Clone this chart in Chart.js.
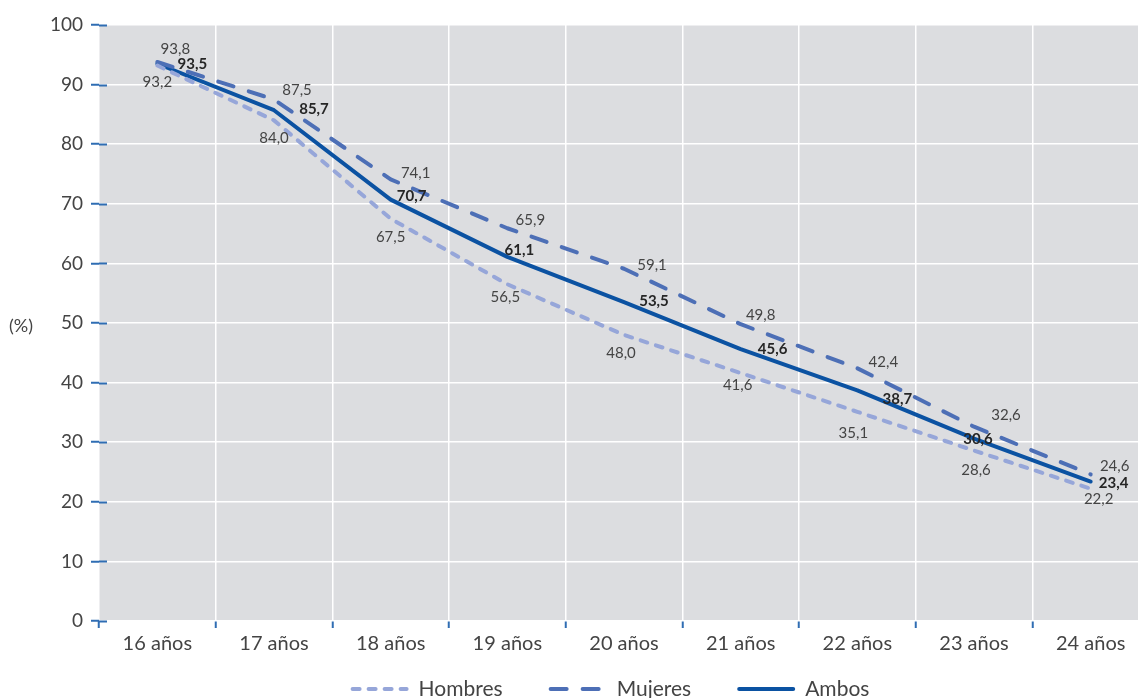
<!DOCTYPE html>
<html lang="es">
<head>
<meta charset="utf-8">
<title>Porcentaje por edad</title>
<script src="https://cdn.jsdelivr.net/npm/chart.js@4/dist/chart.umd.min.js"></script>
<style>
  html, body { margin: 0; padding: 0; background: #fff; overflow: hidden; }
  #wrap { position: relative; width: 1149px; height: 698px; }
  #unidad { position: absolute; left: 9px; top: 314px; font: 18px Lato, sans-serif; color: #444; }
</style>
</head>
<body>
<div id="wrap">
  <canvas id="grafico" width="1149" height="698"></canvas>
  <div id="unidad">(%)</div>
</div>
<script>
// Datos
const edades = ['16 años', '17 años', '18 años', '19 años', '20 años', '21 años', '22 años', '23 años', '24 años'];
const hombres = [93.2, 84.0, 67.5, 56.5, 48.0, 41.6, 35.1, 28.6, 22.2];
const mujeres = [93.8, 87.5, 74.1, 65.9, 59.1, 49.8, 42.4, 32.6, 24.6];
const ambos = [93.5, 85.7, 70.7, 61.1, 53.5, 45.6, 38.7, 30.6, 23.4];
const ticksY = [0, 10, 20, 30, 40, 50, 60, 70, 80, 90, 100];

// desplazamiento de las etiquetas (px) respecto al punto
const etiquetas = [
    { dx: [0, 0, 0, -2, -3, -3, -4, 2, 8], dy: [17, 18, 18, 13, 18, 12, 21, 20, 10], bold: false },
    { dx: [18, 23, 25, 23, 28, 20, 26, 32, 24], dy: [-13, -9, -6, -8, -4, -9, -6, -12, -8], bold: false },
    { dx: [35, 40, 21, 12, 30, 32, 40, 4, 23], dy: [0, -1, -3, -7, -1, 0, 9, 1, 2], bold: true }
];

const fuente = 'Lato, sans-serif';
const azulTick = '#2f6db3';

const fondoPlugin = {
    id: 'fondo',
    beforeDraw(chart) {
        const { ctx, chartArea: a } = chart;
        ctx.save();
        ctx.fillStyle = '#dcdde0';
        ctx.fillRect(a.left, a.top, a.right - a.left, a.bottom - a.top);
        ctx.restore();
    },
    afterDatasetsDraw(chart) {
        const { ctx, chartArea: a } = chart;
        const y = chart.scales.y;
        // marcas azules que entran en el area
        ctx.save();
        ctx.strokeStyle = azulTick;
        ctx.lineWidth = 2;
        ticksY.forEach(v => {
            const py = Math.round(y.getPixelForValue(v)) + 0.5;
            ctx.beginPath();
            ctx.moveTo(a.left, py);
            ctx.lineTo(a.left + 8, py);
            ctx.stroke();
        });
        ctx.restore();

        // etiquetas de valores
        ctx.save();
        ctx.textAlign = 'center';
        ctx.textBaseline = 'middle';
        chart.data.datasets.forEach((ds, i) => {
            const meta = chart.getDatasetMeta(i);
            const cfg = etiquetas[i];
            ctx.font = (cfg.bold ? 'bold ' : '') + '15px ' + fuente;
            ctx.fillStyle = cfg.bold ? '#262626' : '#444';
            meta.data.forEach((pt, j) => {
                const txt = ds.data[j].toFixed(1).replace('.', ',');
                ctx.fillText(txt, pt.x + cfg.dx[j], pt.y + cfg.dy[j]);
            });
        });
        ctx.restore();
    },
    afterDraw(chart) {
        // leyenda
        const { ctx, chartArea: a } = chart;
        const lineaLargo = 58, hueco = 10, separa = 46;
        ctx.save();
        ctx.font = '21px ' + fuente;
        ctx.textBaseline = 'middle';
        const items = chart.data.datasets.map(ds => ({ ds, w: ctx.measureText(ds.label).width }));
        const total = items.reduce((s, it) => s + lineaLargo + hueco + it.w, 0) + separa * (items.length - 1);
        let x = (a.left + a.right) / 2 - total / 2 - 14;
        const y = 689;
        items.forEach(it => {
            ctx.strokeStyle = it.ds.borderColor;
            ctx.lineWidth = it.ds.borderWidth;
            ctx.lineCap = it.ds.borderCapStyle || 'butt';
            ctx.setLineDash(it.ds.borderDash || []);
            ctx.beginPath();
            const capo = it.ds.borderCapStyle === 'round' ? 2 : 0;
            ctx.moveTo(x + capo, y);
            ctx.lineTo(x + lineaLargo - capo, y);
            ctx.stroke();
            ctx.setLineDash([]);
            ctx.fillStyle = '#444';
            ctx.fillText(it.ds.label, x + lineaLargo + hueco, y);
            x += lineaLargo + hueco + it.w + separa;
        });
        ctx.restore();
    }
};

new Chart(document.getElementById('grafico'), {
    type: 'line',
    data: {
        labels: edades,
        datasets: [
            {
                label: 'Hombres',
                data: hombres,
                borderColor: '#96a6d9',
                borderWidth: 4,
                borderDash: [7, 9],
                borderCapStyle: 'round'
            },
            {
                label: 'Mujeres',
                data: mujeres,
                borderColor: '#4d6fb6',
                borderWidth: 4,
                borderDash: [16, 16],
                borderCapStyle: 'round'
            },
            {
                label: 'Ambos',
                data: ambos,
                borderColor: '#0b52a2',
                borderWidth: 4,
                borderCapStyle: 'round'
            }
        ]
    },
    options: {
        responsive: false,
        animation: false,
        layout: { padding: { top: 25, left: 0, right: 0, bottom: 0 } },
        elements: { point: { radius: 0 }, line: { tension: 0, borderJoinStyle: 'round' } },
        plugins: {
            legend: { display: false },
            tooltip: { enabled: false }
        },
        scales: {
            x: {
                offset: true,
                grid: { offset: true, color: '#ffffff', lineWidth: 1.5, tickColor: azulTick, tickLength: 7, tickWidth: 2 },
                border: { display: false },
                ticks: { color: '#444', font: { family: fuente, size: 20 }, padding: 4 },
                afterFit(scale) { scale.height = 77; }
            },
            y: {
                min: 0,
                max: 100,
                afterBuildTicks(scale) { scale.ticks = ticksY.map(v => ({ value: v })); },
                grid: { color: '#ffffff', lineWidth: 1.5, tickColor: azulTick, tickLength: 8, tickWidth: 2 },
                border: { display: false },
                ticks: { color: '#444', font: { family: fuente, size: 19 }, padding: 8 },
                afterFit(scale) { scale.width = 99; }
            }
        }
    },
    plugins: [fondoPlugin]
});
</script>
</body>
</html>
